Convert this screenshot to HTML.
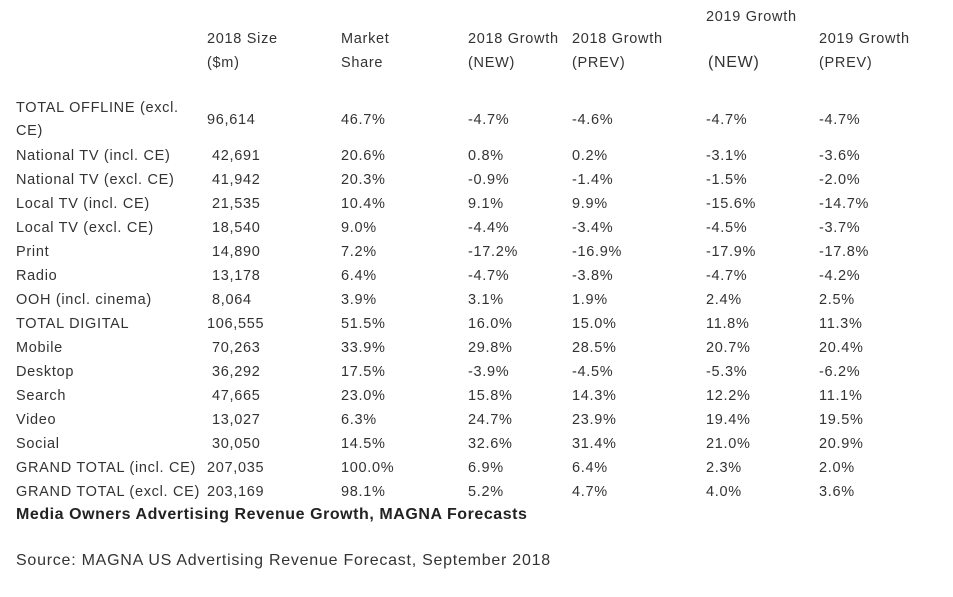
<!DOCTYPE html>
<html><head><meta charset="utf-8">
<style>
html,body{margin:0;padding:0;background:#fff;}
body{width:953px;height:597px;position:relative;overflow:hidden;font-family:"Liberation Sans","Noto Sans CJK SC",sans-serif;color:#333;font-size:14.5px;}
.t{position:absolute;white-space:nowrap;line-height:18px;letter-spacing:0.7px;}
.cap{position:absolute;left:16px;top:506px;font-weight:bold;font-size:16px;color:#222;white-space:nowrap;letter-spacing:0.55px;}
.src{position:absolute;left:16px;top:552px;font-size:16px;color:#333;white-space:nowrap;letter-spacing:0.75px;}
</style></head>
<body>
<div id="tbl"></div>
<div class="cap">Media Owners Advertising Revenue Growth, MAGNA Forecasts</div>
<div class="src">Source: MAGNA US Advertising Revenue Forecast, September 2018</div>
<script>
const categories=["TOTAL OFFLINE (excl. CE)","National TV (incl. CE)","National TV (excl. CE)","Local TV (incl. CE)","Local TV (excl. CE)","Print","Radio","OOH (incl. cinema)","TOTAL DIGITAL","Mobile","Desktop","Search","Video","Social","GRAND TOTAL (incl. CE)","GRAND TOTAL (excl. CE)"];
const size2018=["96,614","42,691","41,942","21,535","18,540","14,890","13,178","8,064","106,555","70,263","36,292","47,665","13,027","30,050","207,035","203,169"];
const marketShare=["46.7%","20.6%","20.3%","10.4%","9.0%","7.2%","6.4%","3.9%","51.5%","33.9%","17.5%","23.0%","6.3%","14.5%","100.0%","98.1%"];
const growth2018New=["-4.7%","0.8%","-0.9%","9.1%","-4.4%","-17.2%","-4.7%","3.1%","16.0%","29.8%","-3.9%","15.8%","24.7%","32.6%","6.9%","5.2%"];
const growth2018Prev=["-4.6%","0.2%","-1.4%","9.9%","-3.4%","-16.9%","-3.8%","1.9%","15.0%","28.5%","-4.5%","14.3%","23.9%","31.4%","6.4%","4.7%"];
const growth2019New=["-4.7%","-3.1%","-1.5%","-15.6%","-4.5%","-17.9%","-4.7%","2.4%","11.8%","20.7%","-5.3%","12.2%","19.4%","21.0%","2.3%","4.0%"];
const growth2019Prev=["-4.7%","-3.6%","-2.0%","-14.7%","-3.7%","-17.8%","-4.2%","2.5%","11.3%","20.4%","-6.2%","11.1%","19.5%","20.9%","2.0%","3.6%"];

const tbl=document.getElementById('tbl');
function put(text,x,cy,name){
  const d=document.createElement('div');
  d.className='t';
  d.textContent=text;
  d.style.left=x+'px';
  d.style.top=(cy-8)+'px';
  
  
  tbl.appendChild(d);
  return d;
}
put("2018 Size",207,38,'header-size');
put("($m)",207,62,'header-size-unit');
put("Market",341,38,'header-share');
put("Share",341,62,'header-share-2');
put("2018 Growth",468,38,'header-2018-new');
put("(NEW)",468,62,'header-2018-new-2');
put("2018 Growth",572,38,'header-2018-prev');
put("(PREV)",572,62,'header-2018-prev-2');
put("2019 Growth",706,16,'header-2019-new');
const nw=put("(NEW)",708,62,'header-2019-new-2');nw.style.fontSize='16px';
put("2019 Growth",819,38,'header-2019-prev');
put("(PREV)",819,62,'header-2019-prev-2');

const cols=[size2018,marketShare,growth2018New,growth2018Prev,growth2019New,growth2019Prev];
const colX=[212,341,468,572,706,819];
const colNames=['size','share','growth-2018-new','growth-2018-prev','growth-2019-new','growth-2019-prev'];
categories.forEach((c,i)=>{
  const cy = i===0 ? 119 : 155+(i-1)*24;
  if(i===0){
    put("TOTAL OFFLINE (excl.",16,107,'row-label-0');
    put("CE)",16,130,'row-label-0b');
  } else {
    put(c,16,cy,'row-label-'+i);
  }
  cols.forEach((arr,j)=>{
    let x=colX[j];
    if(j===0 && (arr[i].length>6 || i===0)) x=207;
    put(arr[i],x,cy,colNames[j]+'-'+i);
  });
});
</script>
</body></html>
